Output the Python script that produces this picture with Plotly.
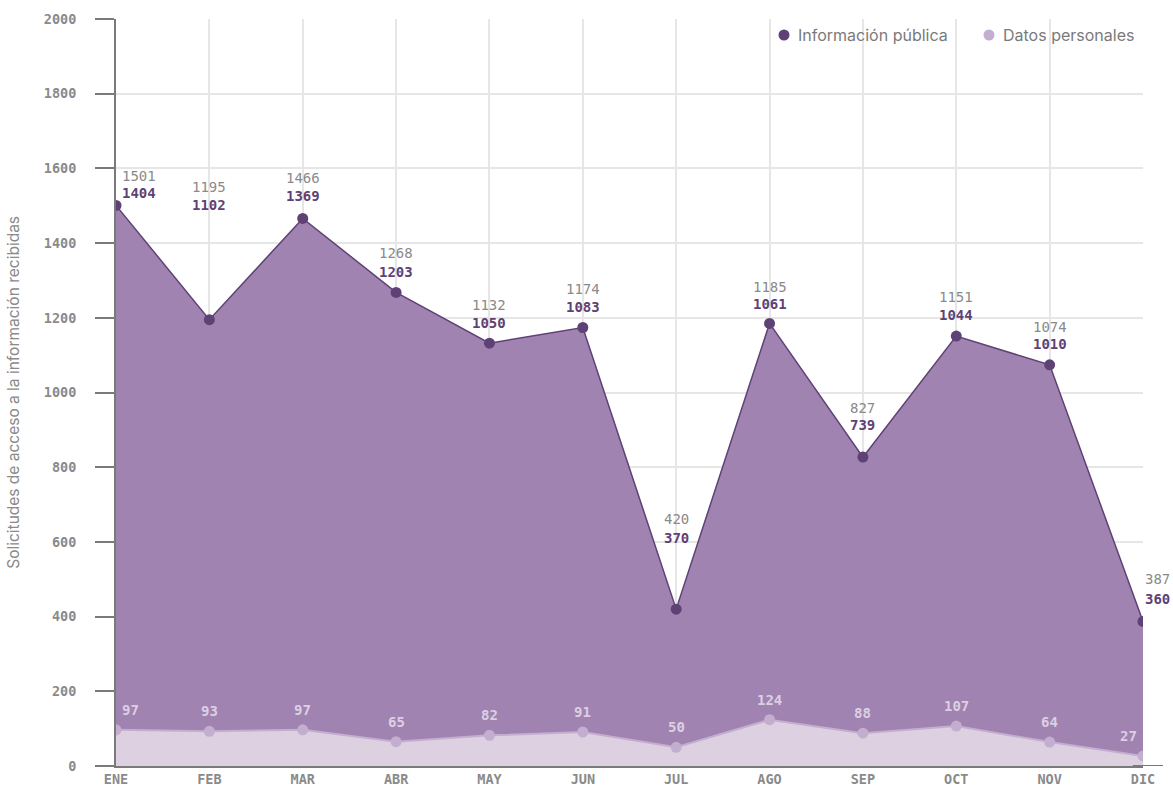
import plotly.graph_objects as go

meses = ["ENE", "FEB", "MAR", "ABR", "MAY", "JUN", "JUL", "AGO", "SEP", "OCT", "NOV", "DIC"]
info_publica = [1404, 1102, 1369, 1203, 1050, 1083, 370, 1061, 739, 1044, 1010, 360]
datos_personales = [97, 93, 97, 65, 82, 91, 50, 124, 88, 107, 64, 27]
totales = [a + b for a, b in zip(info_publica, datos_personales)]
series = ["Información pública", "Datos personales"]

MONO = "DejaVu Sans Mono"
SANS = "Inter"
GRIS = "#8a8a8a"
EJE = "#7a7a7a"
MORADO = "#5e4275"
RELLENO_IP = "#a083b0"
LINEA_DP = "#c3aed0"
RELLENO_DP = "#dcd0e1"

fig = go.Figure()

fig.add_trace(go.Scatter(
    x=meses, y=datos_personales, stackgroup="uno", name=series[1],
    mode="lines+markers",
    line=dict(color=LINEA_DP, width=2),
    marker=dict(color=LINEA_DP, size=11),
    fillcolor=RELLENO_DP,
    showlegend=False, hoverinfo="skip",
))
fig.add_trace(go.Scatter(
    x=meses, y=info_publica, stackgroup="uno", name=series[0],
    mode="lines+markers",
    line=dict(color=MORADO, width=1.5),
    marker=dict(color=MORADO, size=11),
    fillcolor=RELLENO_IP,
    showlegend=False, hoverinfo="skip",
))

# desplazamientos en px de las etiquetas (total, valor)
despl = [(29, 12), (133, 115), (40, 22), (39, 20), (38, 20), (39, 21),
         (90, 71), (36, 19), (49, 32), (39, 21), (38, 21), (42, 22)]

n = len(meses)
for i, m in enumerate(meses):
    if i == 0:
        xa, xs = "left", 4
    elif i == n - 1:
        xa, xs = "left", 0
    else:
        xa, xs = "center", 0
    fig.add_annotation(x=m, y=totales[i], text=str(totales[i]), showarrow=False,
                       xanchor=xa, xshift=xs, yshift=despl[i][0],
                       font=dict(family=MONO, size=14, color=GRIS))
    fig.add_annotation(x=m, y=totales[i], text="<b>%d</b>" % info_publica[i], showarrow=False,
                       xanchor=xa, xshift=xs, yshift=despl[i][1],
                       font=dict(family=MONO, size=14, color=MORADO))
    if i == 0:
        xa2, xs2 = "left", 4
    elif i == n - 1:
        xa2, xs2 = "right", -4
    else:
        xa2, xs2 = "center", 0
    fig.add_annotation(x=m, y=datos_personales[i], text="<b>%d</b>" % datos_personales[i],
                       showarrow=False, xanchor=xa2, xshift=xs2, yshift=20,
                       font=dict(family=MONO, size=14, color="#dccfe3"))

# leyenda dibujada a mano (circulo + texto), arriba a la derecha
ancho_plot, alto_plot = 1027, 747
leyenda_x = [784, 989]
for nombre, color, px in zip(series, [MORADO, LINEA_DP], leyenda_x):
    xp = (px - 116) / ancho_plot
    yp = (766 - 35) / alto_plot
    fig.add_shape(type="circle", xref="paper", yref="paper",
                  xsizemode="pixel", ysizemode="pixel", xanchor=xp, yanchor=yp,
                  x0=-5.5, x1=5.5, y0=-5.5, y1=5.5,
                  fillcolor=color, line=dict(width=0))
    fig.add_annotation(xref="paper", yref="paper", x=xp, xshift=12, y=yp,
                       xanchor="left", yanchor="middle", text=nombre, showarrow=False,
                       font=dict(family=SANS, size=16, color="#7a7a7a"))

fig.add_annotation(xref="paper", yref="paper", x=-0.1, y=0.5, xanchor="center", textangle=-90,
                   text="Solicitudes de acceso a la información recibidas", showarrow=False,
                   font=dict(family=SANS, size=15.5, color=GRIS))

# prolongacion del eje x a la derecha
fig.add_shape(type="line", xref="paper", yref="y", x0=0.99, x1=1 + 20 / 1027, y0=0, y1=0,
              line=dict(color=EJE, width=2))

fig.update_layout(
    width=1173, height=787,
    margin=dict(l=116, r=30, t=19, b=21),
    plot_bgcolor="white", paper_bgcolor="white",
    showlegend=False,
    xaxis=dict(range=[0, n - 1], type="category", showgrid=True, gridcolor="#e6e6e6",
               gridwidth=1.5, showline=True, linecolor=EJE, linewidth=2,
               tickfont=dict(family=MONO, size=13.5, color=GRIS, weight="bold"), ticks="",
               ticklabelstandoff=0,
               automargin=False, zeroline=False),
    yaxis=dict(range=[0, 2000], dtick=200, showgrid=True, gridcolor="#e6e6e6",
               gridwidth=1.5, showline=True, linecolor=EJE, linewidth=2,
               ticks="outside", ticklen=19, tickcolor=EJE, tickwidth=2,
               ticklabelstandoff=16,
               tickfont=dict(family=MONO, size=13.5, color=GRIS, weight="bold"),
               automargin=False, zeroline=False),
)

fig.write_html("out.html", config={"displayModeBar": False},
               post_script="document.body.style.margin='0';")
